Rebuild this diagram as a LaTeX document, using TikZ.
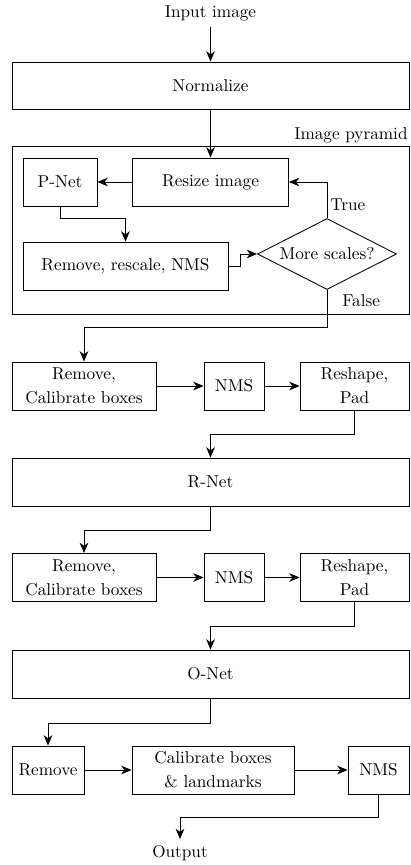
\documentclass[tikz,border=0pt]{standalone}
\usetikzlibrary{arrows.meta,shapes.geometric}
\begin{document}
\begin{tikzpicture}[x=0.5814pt,y=-0.5814pt, line width=0.5pt,
  box/.style={draw, rectangle, inner sep=1pt, align=center},
  sz/.style 2 args={minimum width=#1*0.5814pt, minimum height=#2*0.5814pt},
  arr/.style={-{Stealth[length=6pt,width=5pt,inset=1.8pt]}},
  lbl/.style={inner sep=0pt, anchor=west},
]
\useasboundingbox (0,0) rectangle (410,865);
% nodes
\node (in) at (210.5,13) {Input image};
\node[box, sz={397}{47}] (norm) at (210.5,85.5) {Normalize};
\node[draw, sz={397}{168}, inner sep=0pt] (pyr) at (210.5,230) {};
\node[inner sep=0pt, anchor=east] (pyrl) at (408,135) {Image pyramid};
\node[box, sz={74}{48}] (pnet) at (60,182) {P-Net};
\node[box, sz={156}{48}] (resize) at (210.5,182) {Resize image};
\node[box, sz={205}{48}] (rrn) at (125.5,266) {Remove, rescale, NMS};
\node[draw, diamond, aspect=1.96, inner sep=0pt, sz={139}{71}] (dec) at (327,254) {More scales?};
\node[lbl] (ltrue) at (330,205) {True};
\node[lbl] (lfalse) at (342,301) {False};

\node[box, sz={144}{48}] (rc1) at (84,386) {Remove,\\[2pt]Calibrate boxes};
\node[box, sz={60}{48}] (nms1) at (234,386) {NMS};
\node[box, sz={109}{48}] (rp1) at (354.5,386) {Reshape,\\[2pt]Pad};
\node[box, sz={397}{48}] (rnet) at (210.5,482) {R-Net};

\node[box, sz={144}{48}] (rc2) at (84,577.5) {Remove,\\[2pt]Calibrate boxes};
\node[box, sz={60}{48}] (nms2) at (234,577.5) {NMS};
\node[box, sz={109}{48}] (rp2) at (354.5,577.5) {Reshape,\\[2pt]Pad};
\node[box, sz={397}{48}] (onet) at (210.5,674) {O-Net};

\node[box, sz={72}{48}] (rem) at (48,770) {Remove};
\node[box, sz={162}{48}] (cal) at (213,770) {Calibrate boxes\\[2pt]\& landmarks};
\node[box, sz={61}{48}] (nms3) at (378.5,770) {NMS};
\node (out) at (180,853) {Output};

% connectors
\draw[arr] (in) -- (norm);
\draw[arr] (norm) -- (resize);
\draw[arr] (resize) -- (pnet);
\draw[arr] (pnet.south) -- ++(0,12) -| (rrn.north);
\draw[arr] (rrn.east) -- ++(12,0) |- (dec.west);
\draw[arr] (dec.north) |- (resize.east);
\draw[arr] (dec.south) -- ++(0,37) -| (rc1.north);

\draw[arr] (rc1) -- (nms1);
\draw[arr] (nms1) -- (rp1);
\draw[arr] (rp1.south) -- ++(0,24) -| (rnet.north);
\draw[arr] (rnet.south) -- ++(0,24) -| (rc2.north);

\draw[arr] (rc2) -- (nms2);
\draw[arr] (nms2) -- (rp2);
\draw[arr] (rp2.south) -- ++(0,24) -| (onet.north);
\draw[arr] (onet.south) -- ++(0,25) -| (rem.north);

\draw[arr] (rem) -- (cal);
\draw[arr] (cal) -- (nms3);
\draw[arr] (nms3.south) -- ++(0,23) -| (out.north);
\end{tikzpicture}
\end{document}
